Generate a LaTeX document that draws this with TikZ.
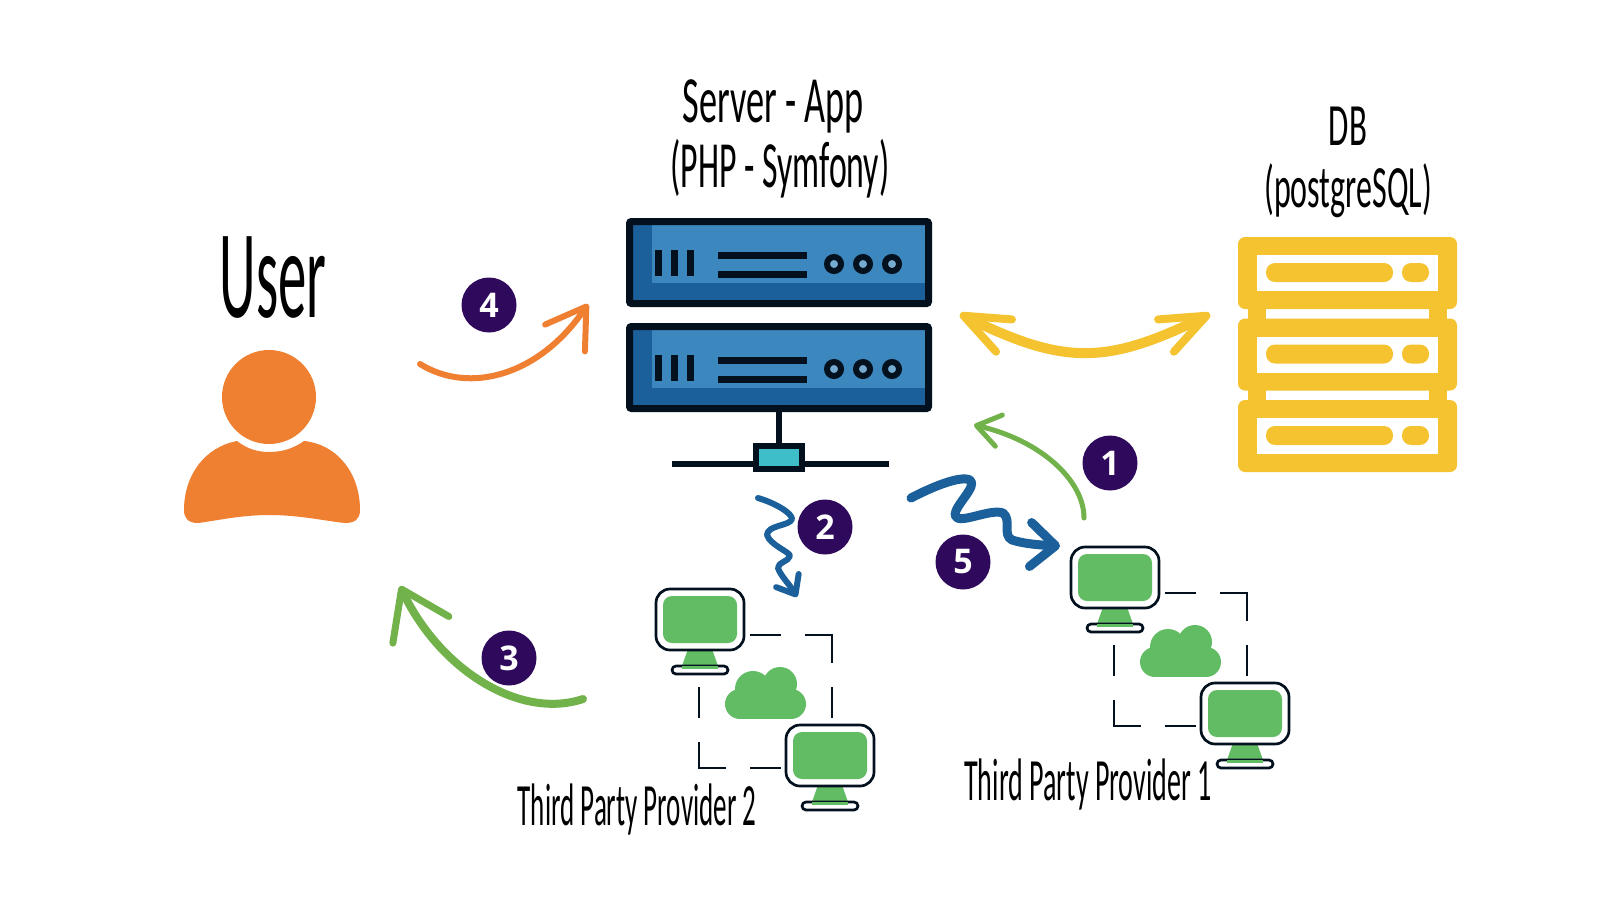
\documentclass[tikz,border=0pt]{standalone}
\usepackage{fontspec}
\usetikzlibrary{arrows.meta}
\setmainfont{Carlito}
\newfontfamily\handfont[FakeStretch=0.55]{Carlito}
\newfontfamily\badgefont{Open Sans}
\definecolor{serverdark}{HTML}{1B5F9B}
\definecolor{serverblue}{HTML}{3B87BE}
\definecolor{inkdark}{HTML}{03111F}
\definecolor{portteal}{HTML}{3DBEC9}
\definecolor{dbyellow}{HTML}{F5C330}
\definecolor{userorange}{HTML}{EF7F31}
\definecolor{screengreen}{HTML}{62BC63}
\definecolor{arrowgreen}{HTML}{72B24A}
\definecolor{badgepurple}{HTML}{2F0A5C}
\tikzset{
    handlabel/.style={font=\handfont\fontsize{#1}{#1}\selectfont, text=black, inner sep=0pt, anchor=base},
    badge/.style={circle, fill=badgepurple, text=white, minimum size=55pt, inner sep=0pt, font=\badgefont\bfseries\fontsize{34}{34}\selectfont},
    sketch/.style={line width=6pt, line cap=round, line join=round},
    rack/.pic={
        % Corpo
        \fill[serverblue] (0,0) rectangle (299,82);
        \fill[serverdark] (0,0) rectangle (22.5,82);
        \fill[serverdark] (0,61.5) rectangle (299,82);
        \draw[inkdark, line width=7pt, rounded corners=2pt] (0,0) rectangle (299,82);
        % Barrette e righe
        \foreach \x in {25.5,41.5,57.5}
            \fill[inkdark] (\x,28.5) rectangle ++(7,26);
        \fill[inkdark] (88.5,30.5) rectangle (177.5,37.5);
        \fill[inkdark] (88.5,49) rectangle (177.5,56);
        % Led
        \foreach \x in {204.5,233.5,262.5}
            \draw[inkdark, line width=6pt, fill=serverblue!70!white] (\x,42.5) circle (7);
    },
    desktop/.pic={
        % Piede
        \fill[screengreen] (32,60) -- (56,60) -- (62,77) -- (26,77) -- cycle;
        \draw[inkdark, line width=2.7pt, rounded corners=4pt] (16,77) rectangle (72,85);
        \fill[screengreen] (26,77) rectangle (62,80);
        % Schermo
        \draw[inkdark, line width=2.7pt, fill=white, rounded corners=14pt] (0,0) rectangle (88,61);
        \fill[screengreen, rounded corners=9pt] (7,7) rectangle (81,54);
    },
    provider/.pic={
        % Tratteggio
        \draw[inkdark, line width=2.7pt] (94,46) -- (125,46);
        \draw[inkdark, line width=2.7pt] (149,46) -- (176,46) -- (176,74);
        \draw[inkdark, line width=2.7pt] (176,98) -- (176,129);
        \draw[inkdark, line width=2.7pt] (43,98) -- (43,129);
        \draw[inkdark, line width=2.7pt] (43,153) -- (43,179) -- (70,179);
        \draw[inkdark, line width=2.7pt] (94,179) -- (125,179);
        % Nuvola
        \fill[screengreen] (97,100) circle (18);
        \fill[screengreen] (124,95) circle (17);
        \fill[screengreen] (84,115) circle (15);
        \fill[screengreen] (135,115) circle (15);
        \fill[screengreen] (84,100) rectangle (135,130);
        % Monitor
        \pic at (0,0) {desktop};
        \pic at (130,136) {desktop};
    },
}
\begin{document}
\begin{tikzpicture}[x=1pt,y=-1pt]
    \useasboundingbox (0,0) rectangle (1600,900);
    \fill[white] (0,0) rectangle (1600,900);

    % Etichette
    \node[handlabel=66] (lblapp) at (773,122) {Server - App};
    \node[handlabel=66, xscale=0.93] (lblphp) at (780,187) {(PHP - Symfony)};
    \node[handlabel=60] (lbldb) at (1348,145) {DB};
    \node[handlabel=60, xscale=0.97] (lblpg) at (1348,207) {(postgreSQL)};
    \node[handlabel=126, xscale=0.82] (lbluser) at (273,317) {User};
    \node[handlabel=60, xscale=0.82] (lblprovb) at (637,825) {Third Party Provider 2};
    \node[handlabel=60, xscale=0.85] (lblprova) at (1088,800) {Third Party Provider 1};

    % Server
    \pic at (629.5,221.5) {rack};
    \pic at (629.5,326.5) {rack};
    \draw[inkdark, line width=6pt] (779,412) -- (779,445);
    \draw[inkdark, line width=6pt] (672,464) -- (889,464);
    \draw[inkdark, line width=6pt, fill=portteal] (756,446) rectangle (802,469);

    % Database
    \foreach \y in {309,391} {
        \fill[dbyellow] (1248,\y-2) rectangle (1266,\y+11);
        \fill[dbyellow] (1429,\y-2) rectangle (1447,\y+11);
    }
    \foreach \y in {237,318.5,400} {
        \fill[dbyellow, rounded corners=7pt] (1238,\y) rectangle (1457,\y+72);
        \fill[white] (1257,\y+18) rectangle (1438,\y+54);
        \fill[dbyellow, rounded corners=9pt] (1266,\y+26) rectangle (1393,\y+45);
        \fill[dbyellow, rounded corners=9pt] (1402,\y+26) rectangle (1429,\y+45);
    }

    % Utente
    \fill[userorange] (269,397) circle (47);
    \fill[userorange] (237,441) .. controls (247,449) and (258,452) .. (269,452)
        .. controls (281,452) and (293,449) .. (304,441)
        .. controls (336,444) and (360,472) .. (360,510)
        .. controls (360,519) and (355,523) .. (345,523)
        .. controls (325,521) and (300,515) .. (269,515)
        .. controls (240,515) and (215,521) .. (198,523)
        .. controls (188,523) and (184,518) .. (184,510)
        .. controls (184,475) and (205,447) .. (237,441) -- cycle;

    % Fornitori
    \pic at (1071,547) {provider};
    \pic at (656,589) {provider};

    % Estremi delle frecce
    \coordinate (userout) at (420,364);
    \coordinate (appin) at (588,304);
    \coordinate (appdb) at (960,314);
    \coordinate (dbapp) at (1210,314);
    \coordinate (provaout) at (1084,518);
    \coordinate (appinb) at (974,425);
    \coordinate (appoutb) at (758,498);
    \coordinate (provbin) at (797,597);
    \coordinate (appouta) at (911,498);
    \coordinate (provain) at (1060,546);
    \coordinate (provbout) at (583,699);
    \coordinate (userin) at (400,586);

    % Frecce
    \draw[sketch, userorange, -{Straight Barb[length=38pt,width=48pt,round]}] (userout) .. controls (470,395) and (540,375) .. (appin);
    \draw[sketch, dbyellow, line width=10pt, {Straight Barb[length=45pt,width=36pt,line width=8pt,round]}-{Straight Barb[length=45pt,width=36pt,line width=8pt,round]}] (appdb) .. controls (1064,365) and (1106,365) .. (dbapp);
    \draw[sketch, arrowgreen, line width=5pt, -{Straight Barb[length=23pt,width=32pt,round]}] (provaout) .. controls (1084,480) and (1040,440) .. (appinb);
    \draw[sketch, serverdark, -{Straight Barb[length=16pt,width=26pt,line width=6pt,round]}] (appoutb) .. controls (775,503) and (792,513) .. (792,519)
        .. controls (790,526) and (767,525) .. (767,535)
        .. controls (770,545) and (790,552) .. (790,556)
        .. controls (788,562) and (778,562) .. (778,568)
        .. controls (780,575) and (790,585) .. (provbin);
    \draw[sketch, serverdark, line width=9pt, -{Straight Barb[length=25pt,width=44pt,round]}] (appouta) .. controls (930,488) and (960,475) .. (970,480)
        .. controls (978,486) and (955,505) .. (955,515)
        .. controls (957,526) and (990,508) .. (1003,513)
        .. controls (1012,520) and (1002,535) .. (1012,540)
        .. controls (1025,544) and (1040,545) .. (provain);
    \draw[sketch, arrowgreen, line width=8pt, -{Straight Barb[length=45pt,width=62pt,line width=7pt,round]}] (provbout) .. controls (520,720) and (440,670) .. (userin);

    % Numeri
    \node[badge] (numa) at (1110,463) {1};
    \node[badge] (numb) at (825,527) {2};
    \node[badge] (numc) at (509,658) {3};
    \node[badge] (numd) at (489,305) {4};
    \node[badge] (nume) at (963,562) {5};
\end{tikzpicture}
\end{document}
